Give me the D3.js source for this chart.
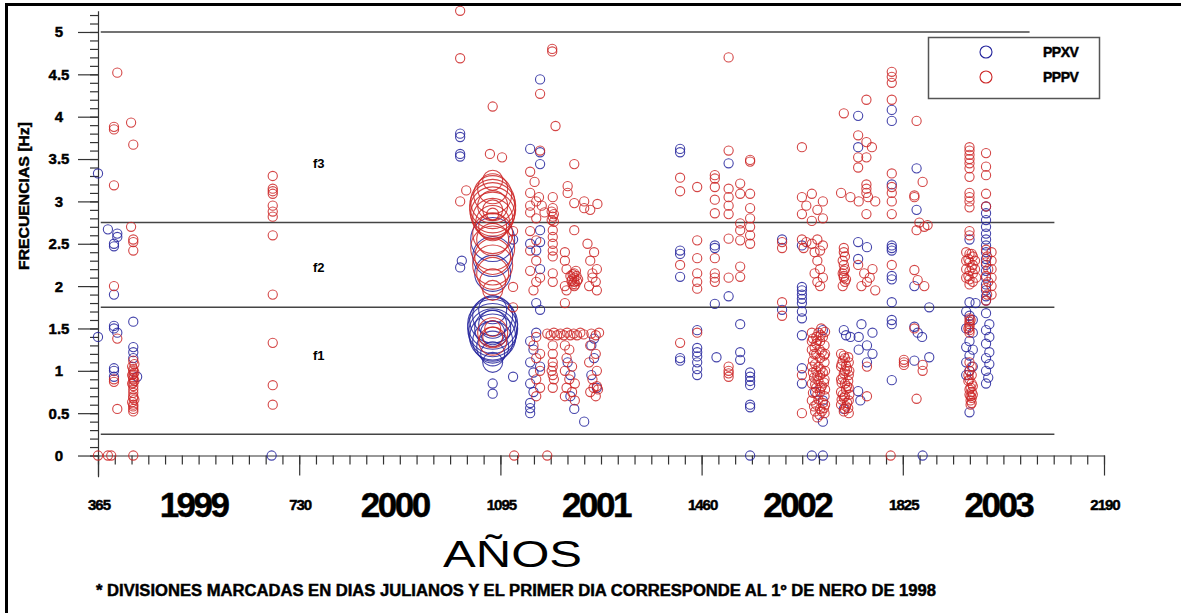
<!DOCTYPE html>
<meta charset="utf-8">
<title>Frecuencias PPXV / PPPV</title>
<style>
    body { margin: 0; background: #fff; }
    svg text { font-family: "Liberation Sans", Arial, sans-serif; font-weight: bold; fill: #000; }
    .heavy { stroke: #000; stroke-width: 0.45px; }
    .axis path, .axis line { stroke: #333; stroke-width: 1.2px; }
    .band { stroke: #444; stroke-width: 1.5px; }
    .pt { fill: none; stroke-width: 1.1px; }
</style>
<body>
<div id="chart"></div>
<script src="https://d3js.org/d3.v7.min.js"></script>
<script>

// tick values (julian days from 1 Jan 1998) and labels
var dayTicks = [365, 730, 1095, 1460, 1825, 2190];
var yearNames = ["1999", "2000", "2001", "2002", "2003"];
var freqTicks = [0, 0.5, 1, 1.5, 2, 2.5, 3, 3.5, 4, 4.5, 5];
var bandLevels = [5, 2.75, 1.75, 0.25];
var bandNames = ["f1", "f2", "f3"];
var seriesNames = ["PPXV", "PPPV"];

// PPXV points [day, Hz]
var ppxv = [
    [365,3.33],[365,1.40],[383,2.67],[400,2.62],[400,2.58],[394,2.50],[394,2.47],[394,1.90],[429,1.58],
    [394,1.53],[394,1.50],[400,1.45],[394,1.03],[394,1.00],[394,0.93],[429,1.28],[429,1.22],[429,1.15],
    [436,0.93],[680,0.00],
    [1022,3.80],[1022,3.76],[1022,3.56],[1022,3.53],[1025,2.30],[1022,2.22],[1167,4.44],[1149,3.62],
    [1167,3.58],[1167,3.44],[1118,2.55],[1081,0.85],[1081,0.73],[1118,0.93],[1167,2.66],[1167,2.52],
    [1149,2.50],[1160,2.42],[1167,2.20],[1160,1.80],[1167,1.72],[1149,1.35],[1155,1.25],[1149,1.10],
    [1155,0.98],[1149,0.85],[1155,0.75],[1149,0.62],[1149,0.56],[1149,0.50],[1160,1.45],[1167,1.05],
    [1217,1.10],[1222,0.95],[1222,0.70],[1229,0.55],[1247,0.40],[1260,1.30],[1265,1.15],[1260,0.95],
    [1270,0.80],[1265,1.38],
    [1421,3.62],[1421,3.58],[1509,3.45],[1421,2.42],[1421,2.38],[1421,2.11],[1484,2.48],[1484,2.45],
    [1484,1.79],[1509,1.88],[1530,1.55],[1421,1.15],[1421,1.12],[1452,1.48],[1452,1.27],[1452,1.22],
    [1452,1.17],[1452,1.10],[1452,1.02],[1452,0.95],[1487,1.16],[1530,1.22],[1530,1.13],[1548,0.98],
    [1548,0.93],[1548,0.88],[1548,0.83],[1548,0.60],[1548,0.57],[1548,0.00],
    [1744,4.01],[1744,3.64],[1805,4.08],[1805,3.95],[1805,3.20],[1606,2.55],[1642,2.48],[1744,2.52],
    [1760,2.46],[1744,2.32],[1805,2.48],[1805,2.45],[1805,2.42],[1805,2.12],[1805,2.08],[1805,1.81],
    [1642,1.99],[1642,1.95],[1642,1.90],[1642,1.85],[1642,1.80],[1642,1.70],[1642,1.62],[1642,1.42],
    [1642,1.03],[1642,0.85],[1680,0.40],[1718,1.48],[1722,1.42],[1730,1.40],[1750,1.55],[1745,1.40],
    [1760,1.30],[1770,1.20],[1760,1.10],[1745,1.25],[1770,1.45],[1744,0.76],[1748,0.65],[1805,1.60],
    [1805,1.55],[1805,0.89],[1660,0.00],[1680,0.00],[1606,1.72],[1680,1.48],[1666,0.75],[1680,0.65],
    [1718,0.55],
    [1850,3.39],[1850,2.90],[1846,2.00],[1873,1.75],[1846,1.52],[1852,1.45],[1860,1.40],[1873,1.16],
    [1846,1.12],[1861,0.00],[1946,2.55],[1946,1.81],[1957,1.80],
    [1940,1.70],[1946,1.65],[1952,1.60],[1940,1.50],[1952,1.45],[1946,1.35],[1940,1.28],[1952,1.25],
    [1946,1.18],[1940,1.10],[1952,1.05],[1946,1.00],[1940,0.95],[1946,0.51],
    [1976,2.94],[1976,2.86],[1976,2.78],[1976,2.70],[1976,2.62],[1976,2.55],[1976,2.48],[1976,2.40],
    [1976,2.32],[1976,2.25],[1976,2.18],[1976,2.10],[1976,2.02],[1976,1.95],[1976,1.88],[1976,1.83],
    [1976,1.68],[1982,1.55],[1976,1.48],[1982,1.40],[1976,1.32],[1982,1.22],[1976,1.15],[1982,1.08],
    [1976,1.00],[1980,0.92],[1976,0.85]
];

// PPPV points [day, Hz]
var pppv = [
    [400,4.52],[394,3.88],[394,3.85],[425,3.93],[429,3.67],[394,3.19],[425,2.70],[429,2.55],[429,2.52],
    [429,2.42],[394,2.00],[400,1.38],[394,0.90],[394,0.87],[400,0.55],
    [429,1.12],[431,1.08],[427,1.05],[429,1.02],[431,0.98],[427,0.95],[429,0.92],[431,0.88],[427,0.85],
    [429,0.82],[429,0.78],[429,0.70],[431,0.66],[427,0.63],[429,0.60],[429,0.55],[429,0.52],
    [429,1.00],[429,0.96],[429,0.90],[429,0.86],[429,0.74],[429,0.68],[429,0.58],
    [365,0],[383,0],[389,0],[429,0],
    [682,3.30],[682,3.15],[682,3.12],[682,3.09],[682,2.95],[682,2.88],[682,2.82],[682,2.60],[682,1.90],
    [682,1.33],[682,0.83],[682,0.60],
    [1022,5.25],[1022,4.69],[1189,4.80],[1189,4.77],[1167,4.27],[1081,4.12],[1195,3.89],[1076,3.56],
    [1098,3.52],[1167,3.60],[1229,3.44],[1149,3.35],[1157,3.23],[1033,3.13],[1022,3.00],
    [1149,3.10],[1160,3.00],[1170,2.95],[1149,2.87],[1175,2.87],[1160,2.80],[1149,2.95],[1165,3.05],
    [1190,3.05],[1190,2.92],[1188,2.88],[1192,2.85],[1190,2.82],[1188,2.78],[1192,2.76],
    [1217,3.18],[1217,3.10],[1229,2.98],[1247,3.00],[1247,2.92],[1271,2.97],[1258,2.90],
    [1118,2.65],[1118,1.99],[1118,1.75],
    [1149,2.65],[1160,2.54],[1149,2.42],[1160,2.30],[1149,2.18],[1167,2.10],[1160,2.05],[1155,1.95],
    [1190,2.66],[1190,2.58],[1190,2.50],[1190,2.42],[1190,2.35],[1190,2.15],[1190,2.05],
    [1222,2.12],[1225,2.08],[1229,2.15],[1229,2.10],[1229,2.05],[1233,2.12],[1236,2.08],[1226,2.02],
    [1232,2.18],[1229,2.00],[1226,2.14],[1234,2.06],[1224,2.06],[1231,2.02],
    [1212,2.40],[1212,2.30],[1215,2.20],[1212,2.00],[1215,1.95],[1229,2.66],[1212,1.80],
    [1253,2.50],[1265,2.40],[1258,2.30],[1270,2.20],[1262,2.10],[1268,2.05],[1256,2.00],[1270,1.95],
    [1262,2.15],
    [1180,1.44],[1186,1.42],[1192,1.45],[1198,1.42],[1204,1.44],[1210,1.42],[1216,1.45],[1222,1.42],
    [1228,1.44],[1234,1.42],[1240,1.45],[1246,1.43],[1260,1.44],[1268,1.42],[1274,1.45],
    [1160,1.40],[1155,1.30],[1167,1.20],[1160,1.15],[1167,1.00],[1160,0.90],[1167,0.80],[1160,0.70],
    [1190,1.30],[1190,1.20],[1190,1.10],[1188,1.00],[1192,0.90],[1190,0.80],[1190,1.05],[1190,0.95],
    [1212,1.30],[1220,1.25],[1215,1.15],[1225,1.05],[1212,1.00],[1220,0.90],[1230,0.85],[1215,0.80],
    [1225,0.75],[1212,0.70],[1230,0.65],
    [1258,1.30],[1268,1.20],[1256,1.10],[1270,1.00],[1262,0.90],[1270,0.82],[1264,0.80],[1272,0.78],
    [1258,0.75],[1268,0.70],
    [1120,0],[1180,0],
    [1509,4.70],[1421,3.28],[1421,3.12],[1452,3.17],[1484,3.31],[1484,3.27],[1484,3.17],[1484,3.02],
    [1484,2.86],[1509,3.60],[1509,3.15],[1509,3.05],[1509,2.95],[1509,2.85],[1530,3.21],[1530,3.09],
    [1530,2.74],[1530,2.66],[1530,2.54],[1548,3.49],[1548,3.47],[1548,3.09],[1548,2.92],[1548,2.80],
    [1548,2.70],[1548,2.60],[1548,2.50],[1421,2.25],[1452,2.54],[1452,2.33],[1452,2.15],[1452,2.05],
    [1452,1.97],[1484,2.33],[1484,2.15],[1484,2.10],[1484,2.05],[1509,2.56],[1509,2.10],[1530,2.23],
    [1530,2.11],[1421,1.33],[1452,1.45],[1509,1.05],[1509,1.00],[1509,0.97],[1509,0.93],
    [1805,4.53],[1805,4.47],[1805,4.40],[1805,4.20],[1759,4.20],[1718,4.04],[1642,3.64],[1744,3.78],
    [1744,3.52],[1744,3.40],[1759,3.70],[1759,3.52],[1769,3.64],[1805,3.33],[1805,3.17],[1805,3.10],
    [1805,3.00],[1805,2.85],[1642,3.05],[1660,3.09],[1680,3.00],[1650,2.95],[1670,2.90],[1642,2.85],
    [1680,2.80],[1660,2.77],[1713,3.10],[1730,3.05],[1745,3.00],[1759,3.20],[1759,3.15],[1759,3.10],
    [1762,3.05],[1775,3.00],[1759,2.85],[1606,2.52],[1606,2.45],
    [1642,2.55],[1650,2.52],[1660,2.50],[1670,2.55],[1680,2.48],[1645,2.45],[1675,2.42],[1665,2.40],
    [1670,2.30],[1675,2.20],[1665,2.15],[1680,2.10],[1670,2.05],[1675,2.00],
    [1718,2.45],[1718,2.40],[1720,2.35],[1716,2.30],[1718,2.25],[1720,2.20],[1716,2.15],[1718,2.10],
    [1720,2.05],[1716,2.00],[1718,2.12],[1718,2.18],[1722,2.08],
    [1744,2.25],[1755,2.15],[1760,2.05],[1770,2.20],[1765,2.10],[1775,1.95],[1750,2.00],[1805,2.25],
    [1606,1.81],[1606,1.65],
    [1660,1.45],[1668,1.40],[1675,1.35],[1683,1.30],[1660,1.25],[1668,1.20],[1675,1.15],[1683,1.10],
    [1660,1.05],[1668,1.00],[1675,0.95],[1683,0.90],[1660,0.85],[1668,0.80],[1675,0.75],[1683,0.70],
    [1660,0.65],[1668,0.60],[1675,0.55],[1683,0.50],[1670,0.45],[1677,1.50],[1665,1.28],[1678,1.22],
    [1672,1.05],[1680,0.98],[1664,0.92],[1678,0.82],[1670,0.72],[1680,0.62],[1664,0.58],[1676,1.42],
    [1668,1.32],[1682,1.18],[1662,1.12],[1672,0.88],[1678,0.52],
    [1662,1.38],[1670,1.36],[1680,1.40],[1664,1.20],[1674,1.25],[1684,1.20],[1666,1.08],[1676,1.02],
    [1684,1.00],[1662,0.98],[1670,0.94],[1682,0.86],[1666,0.84],[1676,0.80],[1684,0.78],[1662,0.74],
    [1672,0.66],[1684,0.60],[1666,0.52],[1674,0.48],[1682,0.56],[1660,1.35],[1672,1.45],[1684,1.46],
    [1642,0.95],[1642,0.50],
    [1713,1.20],[1720,1.15],[1727,1.10],[1713,1.05],[1720,1.00],[1727,0.95],[1713,0.90],[1720,0.85],
    [1727,0.80],[1713,0.75],[1720,0.70],[1727,0.65],[1713,0.60],[1720,0.55],[1727,0.50],[1716,1.12],
    [1724,1.02],[1716,0.92],[1724,0.82],[1716,0.72],[1724,0.62],
    [1718,1.18],[1726,1.16],[1714,1.08],[1722,1.06],[1728,1.00],[1718,0.97],[1726,0.88],[1714,0.86],
    [1722,0.78],[1718,0.68],[1728,0.72],[1714,0.66],[1722,0.58],[1718,0.52],[1726,0.56],
    [1760,1.05],[1760,0.70],[1827,1.10],[1827,1.13],[1827,1.07],[1803,0],
    [1850,3.95],[1861,3.23],[1846,3.07],[1846,3.05],[1855,2.75],[1864,2.70],[1850,2.66],[1870,2.72],
    [1846,2.19],[1852,2.07],[1864,2.00],[1861,1.07],[1861,1.00],[1850,0.67],[1846,1.50],
    [1946,3.64],[1946,3.60],[1946,3.55],[1946,3.50],[1946,3.45],[1946,3.39],[1946,3.29],[1946,3.10],
    [1946,3.05],[1946,3.00],[1946,2.93],[1946,2.65],[1946,2.60],
    [1940,2.40],[1946,2.38],[1952,2.35],[1940,2.30],[1946,2.28],[1952,2.25],[1940,2.20],[1946,2.18],
    [1952,2.15],[1940,2.10],[1946,2.08],[1952,2.05],[1946,2.02],[1956,2.20],[1958,2.10],
    [1944,2.32],[1950,2.22],[1944,2.12],[1950,2.38],[1956,2.30],
    [1946,1.62],[1946,1.58],[1946,1.55],[1946,1.52],[1946,1.48],[1946,1.45],[1944,1.50],[1948,1.60],
    [1946,1.10],[1950,1.05],[1946,1.00],[1950,0.95],[1946,0.90],[1950,0.85],[1948,0.80],[1950,0.75],
    [1948,0.70],[1950,0.68],[1948,0.65],[1944,0.95],
    [1944,0.88],[1952,0.82],[1946,0.78],[1952,0.72],[1946,0.72],[1950,0.62],[1948,0.60],
    [1976,3.57],[1976,3.41],[1976,3.31],[1976,3.09],[1976,2.94],[1976,2.43],[1978,2.35],[1976,2.28],
    [1980,2.20],[1976,2.12],[1980,2.05],[1976,1.98],[1978,1.90],[1976,1.83],
    [1986,2.40],[1986,2.30],[1986,2.20],[1986,2.10],[1986,2.00],[1986,1.90]
];

// large events around day 1081 [day, Hz, magnitude]
var ppxvBig = [
    [1081,2.55,22],[1081,2.35,20],[1081,2.15,18],[1081,1.72,14],[1081,1.65,20],[1081,1.60,23],
    [1081,1.55,25],[1081,1.50,25],[1081,1.45,24],[1081,1.40,23],[1081,1.35,20],[1081,1.28,16],
    [1081,1.20,12],[1081,1.50,18],[1081,1.45,12],[1081,1.55,14],[1081,1.10,10]
];
var pppvBig = [
    [1081,3.25,10],[1081,3.15,15],[1081,3.08,19],[1081,3.00,22],[1081,2.95,23],[1081,2.90,23],
    [1081,2.85,22],[1081,2.80,20],[1081,2.75,17],[1081,2.70,14],[1081,2.95,15],[1081,2.90,10],
    [1081,2.85,6],[1081,2.62,20],[1081,2.55,16],[1081,2.45,22],[1081,2.35,18],[1081,2.25,20],
    [1081,2.15,16],[1081,2.05,13],[1081,1.95,10],
    [1081,1.50,8],[1081,1.45,15],[1081,1.40,10],[1081,1.35,14]
];

var blue = "#23239c", red = "#cc2626";

var W = 1181, H = 613;
var svg = d3.select("#chart").append("svg")
    .attr("width", W)
    .attr("height", H);

// scales
var x = d3.scaleLinear().domain([365, 2190]).range([98, 1104]);
var y = d3.scaleLinear().domain([-0.25, 5.25]).range([476.7, 10.8]);

// frame (top and left edges)
svg.append("path")
    .attr("d", "M6.5," + H + "V4.5H" + W)
    .attr("fill", "none")
    .attr("stroke", "#000")
    .attr("stroke-width", 3);

// band lines
svg.selectAll(".band")
    .data(bandLevels)
    .enter().append("line")
    .attr("class", "band")
    .attr("x1", x(370))
    .attr("x2", function (d) { return d === 5 ? x(2055) : x(2100); })
    .attr("y1", function (d) { return y(d); })
    .attr("y2", function (d) { return y(d); });

// Y axis: minor ticks every 0.1, major every 0.5
svg.append("g")
    .attr("class", "axis")
    .attr("transform", "translate(" + x(365) + ",0)")
    .call(d3.axisLeft(y).tickValues(d3.range(0, 53).map(function (i) { return i / 10; }))
        .tickSize(8).tickSizeOuter(0).tickFormat(""));

svg.append("g")
    .attr("class", "axis")
    .attr("transform", "translate(" + x(365) + ",0)")
    .call(d3.axisLeft(y).tickValues(freqTicks).tickSize(20).tickSizeOuter(0).tickFormat(""))
    .select(".domain").remove();

svg.selectAll(".ylab")
    .data(freqTicks)
    .enter().append("text")
    .attr("class", "ylab heavy")
    .attr("x", 59)
    .attr("y", function (d) { return y(d); })
    .attr("dy", "0.36em")
    .attr("text-anchor", "middle")
    .attr("font-size", "15px")
    .text(function (d) { return d; });

svg.append("text")
    .attr("class", "heavy")
    .attr("transform", "translate(29,196) rotate(-90)")
    .attr("text-anchor", "middle")
    .attr("font-size", "14px")
    .attr("textLength", 148)
    .attr("lengthAdjust", "spacingAndGlyphs")
    .text("FRECUENCIAS [Hz]");

// X axis: minor ticks monthly, major ticks yearly
svg.append("g")
    .attr("class", "axis")
    .attr("transform", "translate(0," + y(0) + ")")
    .call(d3.axisBottom(x).tickValues(d3.range(0, 61).map(function (i) { return 365 + i * 365 / 12; }))
        .tickSize(9).tickSizeOuter(0).tickFormat(""));

svg.append("g")
    .attr("class", "axis")
    .attr("transform", "translate(0," + y(0) + ")")
    .call(d3.axisBottom(x).tickValues(dayTicks).tickSize(20).tickSizeOuter(0).tickFormat(""))
    .select(".domain").remove();

svg.selectAll(".xlab")
    .data(dayTicks)
    .enter().append("text")
    .attr("class", "xlab heavy")
    .attr("x", function (d) { return x(d) + 1; })
    .attr("y", 510)
    .attr("text-anchor", "middle")
    .attr("font-size", "15px")
    .attr("letter-spacing", "-1px")
    .text(function (d) { return d; });

svg.selectAll(".year")
    .data(yearNames)
    .enter().append("text")
    .attr("class", "year heavy")
    .attr("x", function (d, i) { return x(dayTicks[i] + 182.5) - 5; })
    .attr("y", 517)
    .attr("text-anchor", "middle")
    .attr("font-size", "35px")
    .attr("letter-spacing", "-2.5px")
    .text(function (d) { return d; });

svg.append("text")
    .attr("x", 443)
    .attr("y", 567)
    .attr("font-size", "36px")
    .style("font-weight", "normal")
    .attr("textLength", 139)
    .attr("lengthAdjust", "spacingAndGlyphs")
    .text("AÑOS");

svg.append("text")
    .attr("class", "heavy")
    .attr("x", 96)
    .attr("y", 596)
    .attr("font-size", "16px")
    .attr("textLength", 840)
    .attr("lengthAdjust", "spacingAndGlyphs")
    .text("* DIVISIONES MARCADAS EN DIAS JULIANOS Y EL PRIMER DIA CORRESPONDE AL 1º DE NERO DE 1998");

// band names
var bandY = [1.18, 2.22, 3.45];
svg.selectAll(".fname")
    .data(bandNames)
    .enter().append("text")
    .attr("class", "fname")
    .attr("x", 313)
    .attr("y", function (d, i) { return y(bandY[i]); })
    .attr("dy", "0.36em")
    .attr("font-size", "13px")
    .text(function (d) { return d; });

// points: PPXV first, PPPV on top
var pts = svg.append("g");

function drawSeries(data, colour, r) {
    pts.append("g")
        .selectAll("circle")
        .data(data)
        .enter().append("circle")
        .attr("class", "pt")
        .attr("cx", function (d) { return x(d[0]); })
        .attr("cy", function (d) { return y(d[1]); })
        .attr("r", function (d) { return r || d[2]; })
        .attr("stroke", colour)
        .attr("stroke-opacity", 0.85);
}

drawSeries(ppxvBig, blue);
drawSeries(ppxv, blue, 4.6);
drawSeries(pppvBig, red);
drawSeries(pppv, red, 4.6);

// legend
var legend = svg.append("g");
legend.append("rect")
    .attr("x", 928.5).attr("y", 37.5)
    .attr("width", 171).attr("height", 61)
    .attr("fill", "#fff")
    .attr("stroke", "#555")
    .attr("stroke-width", 1.5);

legend.selectAll("circle")
    .data(seriesNames)
    .enter().append("circle")
    .attr("cx", 986)
    .attr("cy", function (d, i) { return 52 + i * 25; })
    .attr("r", 6)
    .attr("fill", "none")
    .attr("stroke", function (d, i) { return i === 0 ? blue : red; })
    .attr("stroke-width", 1.1);

legend.selectAll("text")
    .data(seriesNames)
    .enter().append("text")
    .attr("class", "heavy")
    .attr("x", 1043)
    .attr("y", function (d, i) { return 52 + i * 25; })
    .attr("dy", "0.36em")
    .attr("font-size", "14px")
    .attr("letter-spacing", "-0.5px")
    .text(function (d) { return d; });

</script>
</body>
